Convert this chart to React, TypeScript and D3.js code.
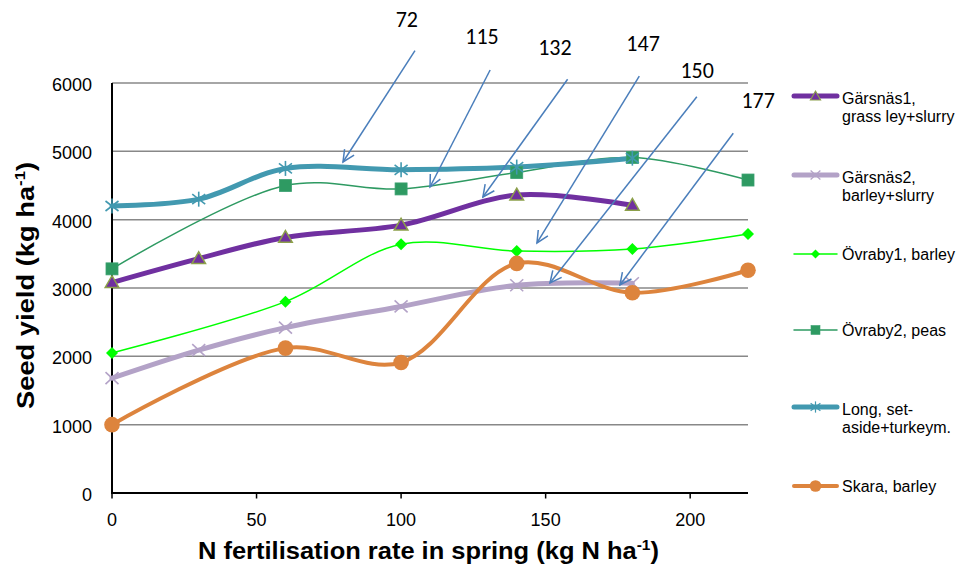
import React from "react";
import * as d3 from "d3";

// ---- data ----
const yTicks = [0, 1000, 2000, 3000, 4000, 5000, 6000];
const xTicks = [0, 50, 100, 150, 200];

const xGarsnas1 = [0, 30, 60, 100, 140, 180];
const yGarsnas1 = [3080, 3430, 3740, 3920, 4360, 4210];

const xGarsnas2 = [0, 30, 60, 100, 140, 180];
const yGarsnas2 = [1680, 2090, 2420, 2730, 3040, 3070];

const xOvraby1 = [0, 60, 100, 140, 180, 220];
const yOvraby1 = [2050, 2800, 3640, 3540, 3570, 3790];

const xOvraby2 = [0, 60, 100, 140, 180, 220];
const yOvraby2 = [3280, 4500, 4450, 4690, 4910, 4580];

const xLong = [0, 30, 60, 100, 140, 180];
const yLong = [4200, 4300, 4750, 4730, 4770, 4900];

const xSkara = [0, 60, 100, 140, 180, 220];
const ySkara = [1000, 2120, 1910, 3360, 2930, 3260];

// annotation arrows, in data units (N rate, yield)
const arrowLabels = ["72", "115", "132", "147", "150", "177"];
const arrowLabelX = [102, 128, 153.2, 183.7, 202.4, 223.5];
const arrowLabelY = [6937, 6688, 6527, 6585, 6190, 5751];
const arrowStartX = [104.8, 130.8, 157.6, 182.4, 202.3, 214.9];
const arrowStartY = [6473, 6190, 6054, 6102, 5800, 5264];
const arrowTipX = [79.9, 110.0, 128.3, 147.0, 151.5, 175.7];
const arrowTipY = [4844, 4478, 4332, 3659, 3073, 3044];

type Series = {
  name: string[];
  xs: number[];
  ys: number[];
  color: string;
  width: number;
  marker: string;
};

const series: Series[] = [
  { name: ["Gärsnäs1,", "grass ley+slurry"], xs: xGarsnas1, ys: yGarsnas1, color: "#7030A0", width: 5, marker: "triangle" },
  { name: ["Gärsnäs2,", "barley+slurry"], xs: xGarsnas2, ys: yGarsnas2, color: "#B3A2C7", width: 5, marker: "x" },
  { name: ["Övraby1, barley"], xs: xOvraby1, ys: yOvraby1, color: "#00FF00", width: 1.5, marker: "diamond" },
  { name: ["Övraby2, peas"], xs: xOvraby2, ys: yOvraby2, color: "#2E9A62", width: 1.5, marker: "square" },
  { name: ["Long, set-", "aside+turkeym."], xs: xLong, ys: yLong, color: "#4299B0", width: 5, marker: "star" },
  { name: ["Skara, barley"], xs: xSkara, ys: ySkara, color: "#DD843D", width: 4, marker: "circle" },
];

const legendY = [96, 175, 254, 330, 407, 486];

function Marker({ type, color, x, y, s = 1 }: { type: string; color: string; x: number; y: number; s?: number }) {
  const t = `translate(${x},${y}) scale(${s})`;
  if (type === "triangle") {
    const p = d3.symbol(d3.symbolTriangle, 80)();
    return <path d={p || ""} transform={`translate(${x},${y + 1}) scale(${s})`} fill={color} stroke="#8CA04A" strokeWidth={1.5} />;
  }
  if (type === "x") {
    return (
      <g transform={t} stroke={color} strokeWidth={1.6}>
        <line x1={-6.5} y1={-6} x2={6.5} y2={6} />
        <line x1={-6.5} y1={6} x2={6.5} y2={-6} />
      </g>
    );
  }
  if (type === "diamond") {
    return <path d="M0,-6 L6,0 L0,6 L-6,0 Z" transform={t} fill={color} />;
  }
  if (type === "square") {
    return <rect x={-6} y={-6} width={12} height={12} transform={t} fill={color} stroke="#3AA070" strokeWidth={0.8} />;
  }
  if (type === "star") {
    return (
      <g transform={t} stroke={color} strokeWidth={1.6}>
        <line x1={0} y1={-7.5} x2={0} y2={7.5} />
        <line x1={-6.5} y1={-5} x2={6.5} y2={5} />
        <line x1={-6.5} y1={5} x2={6.5} y2={-5} />
      </g>
    );
  }
  return <circle cx={x} cy={y} r={7.8 * s} fill={color} />;
}

export default function App() {
  const x = d3.scaleLinear().domain([0, 220]).range([112, 748]);
  const y = d3.scaleLinear().domain([0, 6000]).range([493, 83]);

  const line = d3
    .line<[number, number]>()
    .x((d) => x(d[0]))
    .y((d) => y(d[1]))
    .curve(d3.curveCatmullRom.alpha(0.5));

  const font = "'Liberation Sans', Arial, sans-serif";

  return (
    <svg
      width={964}
      height={568}
      style={{ position: "absolute", left: 0, top: 0, background: "#fff" }}
      fontFamily={font}
    >
      {/* gridlines */}
      {yTicks.filter((t) => t > 0).map((t) => (
        <line key={t} x1={x(0)} x2={x(220)} y1={y(t)} y2={y(t)} stroke="#888888" strokeWidth={1.5} />
      ))}
      {/* y tick labels */}
      {yTicks.map((t) => (
        <text key={t} x={92} y={y(t) + 8} textAnchor="end" fontSize={18} fill="#000">
          {t}
        </text>
      ))}
      {/* x ticks + labels */}
      {xTicks.map((t) => (
        <g key={t}>
          <line x1={x(t)} x2={x(t)} y1={y(0)} y2={y(0) + 5.5} stroke="#000" strokeWidth={1.5} />
          <text x={x(t)} y={526} textAnchor="middle" fontSize={18} fill="#000">
            {t}
          </text>
        </g>
      ))}
      {/* axes */}
      <line x1={x(0)} x2={x(0)} y1={y(6000)} y2={y(0)} stroke="#000" strokeWidth={2} />
      <line x1={x(0) - 1} x2={x(220)} y1={y(0)} y2={y(0)} stroke="#000" strokeWidth={2} />

      {/* series lines */}
      {series.map((s, i) => (
        <path
          key={"l" + i}
          d={line(s.xs.map((v, j) => [v, s.ys[j]] as [number, number])) || ""}
          fill="none"
          stroke={s.color}
          strokeWidth={s.width}
          strokeLinecap="round"
        />
      ))}
      {/* markers drawn per series in order */}
      {series.map((s, i) => (
        <g key={"m" + i}>
          {s.xs.map((v, j) => (
            <Marker key={j} type={s.marker} color={s.color} x={x(v)} y={y(s.ys[j])} />
          ))}
        </g>
      ))}

      {/* arrows */}
      {arrowLabels.map((lab, i) => {
        const x0 = x(arrowStartX[i]);
        const y0 = y(arrowStartY[i]);
        const x1 = x(arrowTipX[i]);
        const y1 = y(arrowTipY[i]);
        const ang = Math.atan2(y0 - y1, x0 - x1);
        const L = 13;
        const a = 0.45;
        const h1x = x1 + L * Math.cos(ang + a);
        const h1y = y1 + L * Math.sin(ang + a);
        const h2x = x1 + L * Math.cos(ang - a);
        const h2y = y1 + L * Math.sin(ang - a);
        return (
          <g key={"a" + i} stroke="#4A7EBB" strokeWidth={1.5} fill="none">
            <line x1={x0} y1={y0} x2={x1} y2={y1} />
            <path d={`M${h1x},${h1y} L${x1},${y1} L${h2x},${h2y}`} strokeLinejoin="miter" />
            <text
              x={x(arrowLabelX[i])}
              y={y(arrowLabelY[i]) + 8}
              textAnchor="middle"
              fontSize={22}
              fill="#000"
              stroke="none"
              fontFamily="Carlito, Calibri, 'Open Sans', sans-serif"
            >
              {lab}
            </text>
          </g>
        );
      })}

      {/* legend */}
      {series.map((s, i) => {
        const ly = legendY[i];
        const two = s.name.length > 1;
        return (
          <g key={"lg" + i}>
            <line x1={794} x2={837} y1={ly} y2={ly} stroke={s.color} strokeWidth={s.width} strokeLinecap="round" />
            <Marker type={s.marker} color={s.color} x={815.5} y={ly} s={0.75} />
            {s.name.map((nm, k) => (
              <text key={k} x={842} y={ly + (two ? 8 : 6) + k * 18} fontSize={16} fill="#000">
                {nm}
              </text>
            ))}
          </g>
        );
      })}

      {/* axis titles */}
      <text
        x={428.5}
        y={559}
        textAnchor="middle"
        fontSize={23}
        fontWeight="bold"
        textLength={461}
        lengthAdjust="spacingAndGlyphs"
      >
        N fertilisation  rate in spring (kg N ha
        <tspan fontSize={14} dy={-9}>-1</tspan>
        <tspan dy={9}>)</tspan>
      </text>
      <text
        transform="translate(33.5,285.5) rotate(-90)"
        x={0}
        y={0}
        textAnchor="middle"
        fontSize={23}
        fontWeight="bold"
        textLength={247}
        lengthAdjust="spacingAndGlyphs"
      >
        Seed yield  (kg ha
        <tspan fontSize={14} dy={-9}>-1</tspan>
        <tspan dy={9}>)</tspan>
      </text>
    </svg>
  );
}
